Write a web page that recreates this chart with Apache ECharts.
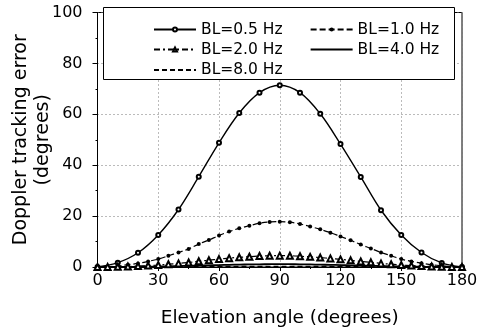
<!DOCTYPE html>
<html>
<head>
<meta charset="utf-8">
<script src="https://cdn.jsdelivr.net/npm/echarts@6/dist/echarts.min.js"></script>
<style>html,body{margin:0;padding:0;background:#fff}#c{width:489px;height:331px}</style>
</head>
<body>
<div id="c"></div>
<script>
const angles10 = [0,10,20,30,40,50,60,70,80,90,100,110,120,130,140,150,160,170,180];
const angles5 = [0,5,10,15,20,25,30,35,40,45,50,55,60,65,70,75,80,85,90,95,100,105,110,115,120,125,130,135,140,145,150,155,160,165,170,175,180];
const bl05 = [0,1.7,5.6,12.6,22.6,35.5,48.8,60.5,68.5,71.4,68.5,60.2,48.3,35.4,22.3,12.6,5.7,1.6,0];
const bl10 = [0,0.1,0.4,0.9,1.4,2.2,3.1,4.4,5.7,7.1,9.0,10.6,12.4,13.9,15.2,16.2,17.2,17.7,17.8,17.6,16.9,15.9,14.8,13.5,12.0,10.5,8.8,7.3,5.7,4.4,3.1,2.2,1.5,0.9,0.5,0.1,0];
const bl20 = [0,0.03,0.1,0.22,0.35,0.55,0.78,1.1,1.42,1.78,2.25,2.65,3.1,3.48,3.8,4.05,4.3,4.42,4.45,4.4,4.22,3.98,3.7,3.38,3.0,2.62,2.2,1.83,1.42,1.1,0.78,0.55,0.38,0.22,0.12,0.03,0];
const bl40 = [0,0.01,0.03,0.05,0.09,0.14,0.2,0.27,0.36,0.45,0.55,0.66,0.76,0.86,0.95,1.01,1.07,1.1,1.11,1.1,1.06,1.0,0.93,0.84,0.75,0.65,0.55,0.45,0.36,0.27,0.2,0.14,0.09,0.05,0.03,0.01,0];
const bl80 = [0,0,0.01,0.01,0.02,0.03,0.05,0.07,0.09,0.11,0.14,0.17,0.19,0.22,0.24,0.25,0.27,0.28,0.28,0.28,0.27,0.25,0.23,0.21,0.19,0.16,0.14,0.11,0.09,0.07,0.05,0.03,0.02,0.01,0.01,0,0];
const names = ['BL=0.5 Hz','BL=1.0 Hz','BL=2.0 Hz','BL=4.0 Hz','BL=8.0 Hz'];
const xTicks = [0,30,60,90,120,150,180];
const yTicks = [0,20,40,60,80,100];

const zip = (xs, ys) => xs.map((x, i) => [x, ys[i]]);
const FONT = 'DejaVu Sans';
const chart = echarts.init(document.getElementById('c'), null, {renderer: 'canvas'});
const noSym = {color: 'rgba(0,0,0,0)', borderColor: 'rgba(0,0,0,0)', opacity: 0};

function legendRow(data, top) {
  return {
    data: data, top: top, left: 153, orient: 'horizontal', padding: 0,
    itemWidth: 42, itemHeight: 5, itemGap: 27, z: 10,
    textStyle: {fontFamily: FONT, fontSize: 15.5, color: '#000'},
    inactiveColor: '#000', selectedMode: false
  };
}

chart.setOption({
  animation: false,
  backgroundColor: '#fff',
  textStyle: {fontFamily: FONT},
  grid: {left: 97.5, right: 27, top: 12.5, bottom: 64, show: true, borderColor: '#000', borderWidth: 1,
         backgroundColor: 'transparent', containLabel: false, outerBoundsMode: 'none'},
  graphic: {elements: [{type: 'rect', left: 103, top: 7, z: 3,
    shape: {width: 351, height: 72}, style: {fill: '#fff', stroke: '#000', lineWidth: 1}}]},
  legend: [
    legendRow([names[0], names[1]], 21.5),
    legendRow([names[2], {name: names[3], itemStyle: noSym}], 41.5),
    legendRow([{name: names[4], itemStyle: noSym}], 62)
  ],
  xAxis: {
    type: 'value', min: xTicks[0], max: xTicks[xTicks.length-1], interval: 30,
    name: 'Elevation angle (degrees)', nameLocation: 'middle', nameGap: 42, nameMoveOverlap: false,
    nameTextStyle: {fontFamily: FONT, fontSize: 18.5, color: '#000'},
    axisLine: {lineStyle: {color: '#000', width: 1}},
    axisTick: {show: true, length: 4, inside: false, lineStyle: {color: '#000'}},
    minorTick: {show: true, splitNumber: 2, length: 2, lineStyle: {color: '#000'}},
    axisLabel: {fontFamily: FONT, fontSize: 16, color: '#000', margin: 6},
    splitLine: {show: true, lineStyle: {color: '#777', type: [1, 3], width: 1}}
  },
  yAxis: {
    type: 'value', min: yTicks[0], max: yTicks[yTicks.length-1], interval: 20,
    name: 'Doppler tracking error\n(degrees)', nameLocation: 'middle', nameGap: 43, nameMoveOverlap: false,
    nameTextStyle: {fontFamily: FONT, fontSize: 19, color: '#000', lineHeight: 22},
    axisLine: {show: true, lineStyle: {color: '#000', width: 1}},
    axisTick: {show: true, length: 5, inside: false, lineStyle: {color: '#000'}},
    minorTick: {show: true, splitNumber: 2, length: 2, lineStyle: {color: '#000'}},
    axisLabel: {fontFamily: FONT, fontSize: 16, color: '#000', margin: 15},
    splitLine: {show: true, lineStyle: {color: '#777', type: [1, 3], width: 1}}
  },
  series: [
    {name: names[0], type: 'line', data: zip(angles10, bl05), smooth: 0.35, showAllSymbol: true,
     symbol: 'emptyCircle', symbolSize: 4, lineStyle: {color: '#000', width: 1.4, type: 'solid'},
     itemStyle: {color: '#000', borderColor: '#000', borderWidth: 0.8}},
    {name: names[1], type: 'line', data: zip(angles5, bl10), smooth: 0.35, showAllSymbol: true,
     symbol: 'circle', symbolSize: 4, lineStyle: {color: '#000', width: 1.2, type: [6, 3]},
     itemStyle: {color: '#000'}},
    {name: names[2], type: 'line', data: zip(angles5, bl20), smooth: 0.35, showAllSymbol: true,
     symbol: 'emptyTriangle', symbolSize: 6, lineStyle: {color: '#000', width: 1.2, type: [6, 3, 2, 3]},
     itemStyle: {color: '#000', borderColor: '#000', borderWidth: 0.6}},
    {name: names[3], type: 'line', data: zip(angles5, bl40), smooth: 0.35, showSymbol: false, symbol: 'none',
     lineStyle: {color: '#000', width: 1.8, type: 'solid'}, itemStyle: {color: '#000'}},
    {name: names[4], type: 'line', data: zip(angles5, bl80), smooth: 0.35, showSymbol: false, symbol: 'none',
     lineStyle: {color: '#000', width: 1.2, type: [5, 3]}, itemStyle: {color: '#000'}}
  ]
});
</script>
</body>
</html>
